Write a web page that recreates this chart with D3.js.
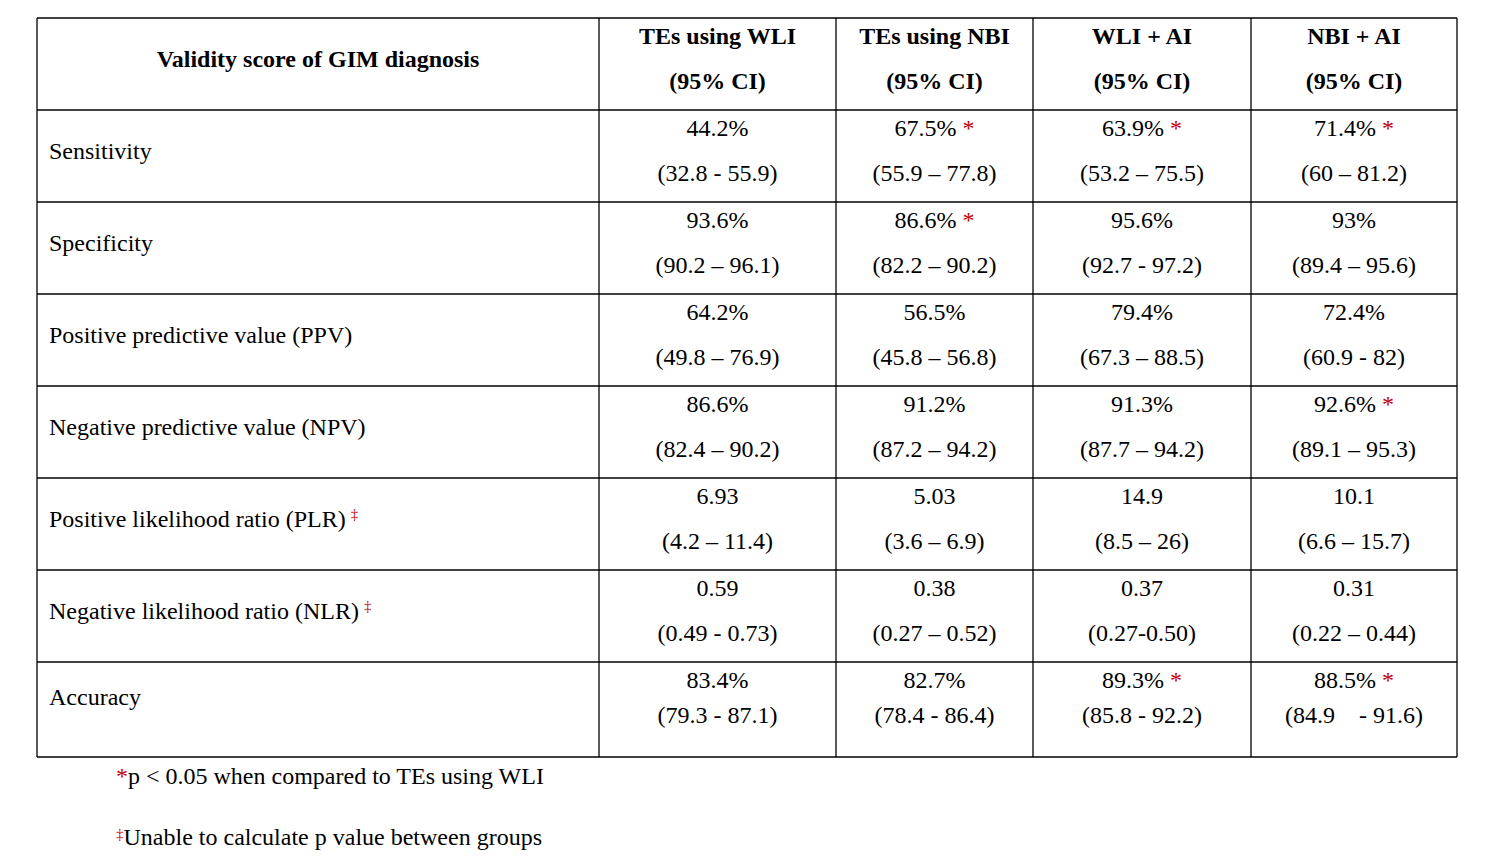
<!DOCTYPE html>
<html>
<head>
<meta charset="utf-8">
<script src="https://cdn.jsdelivr.net/npm/d3@7"></script>
<style>
  body { margin: 0; background: #fff; }
  svg text { font-family: "Liberation Serif", Tinos, "DejaVu Serif", serif; fill: #000; }
</style>
</head>
<body>
<svg id="table"></svg>
<script>
const width = 1490;
const height = 859;

const headerTitle = "Validity score of GIM diagnosis";
const columns = ["TEs using WLI", "TEs using NBI", "WLI + AI", "NBI + AI"];
const metrics = [
  "Sensitivity",
  "Specificity",
  "Positive predictive value (PPV)",
  "Negative predictive value (NPV)",
  "Positive likelihood ratio (PLR)",
  "Negative likelihood ratio (NLR)",
  "Accuracy"
];
const daggerRows = [false, false, false, false, true, true, false];
const values = [
  ["44.2%", "67.5%", "63.9%", "71.4%"],
  ["93.6%", "86.6%", "95.6%", "93%"],
  ["64.2%", "56.5%", "79.4%", "72.4%"],
  ["86.6%", "91.2%", "91.3%", "92.6%"],
  ["6.93", "5.03", "14.9", "10.1"],
  ["0.59", "0.38", "0.37", "0.31"],
  ["83.4%", "82.7%", "89.3%", "88.5%"]
];
const intervals = [
  ["(32.8 - 55.9)", "(55.9 \u2013 77.8)", "(53.2 \u2013 75.5)", "(60 \u2013 81.2)"],
  ["(90.2 \u2013 96.1)", "(82.2 \u2013 90.2)", "(92.7 - 97.2)", "(89.4 \u2013 95.6)"],
  ["(49.8 \u2013 76.9)", "(45.8 \u2013 56.8)", "(67.3 \u2013 88.5)", "(60.9 - 82)"],
  ["(82.4 \u2013 90.2)", "(87.2 \u2013 94.2)", "(87.7 \u2013 94.2)", "(89.1 \u2013 95.3)"],
  ["(4.2 \u2013 11.4)", "(3.6 \u2013 6.9)", "(8.5 \u2013 26)", "(6.6 \u2013 15.7)"],
  ["(0.49 - 0.73)", "(0.27 \u2013 0.52)", "(0.27-0.50)", "(0.22 \u2013 0.44)"],
  ["(79.3 - 87.1)", "(78.4 - 86.4)", "(85.8 - 92.2)", "(84.9\u00a0\u00a0\u00a0 - 91.6)"]
];
const significant = [
  [false, true, true, true],
  [false, true, false, false],
  [false, false, false, false],
  [false, false, false, true],
  [false, false, false, false],
  [false, false, false, false],
  [false, false, true, true]
];
const footnotes = ["p < 0.05 when compared to TEs using WLI", "Unable to calculate p value between groups"];
const footMarks = ["*", "\u2021"];

const red = "#c00000";
const fs = 24;
const serif = '"Liberation Serif", Tinos, "DejaVu Serif", serif';

// column edges and row edges
const colEdges = [37, 599, 836, 1033, 1251, 1457];
const rowEdges = [18, 110, 202, 294, 386, 478, 570, 662, 757];

const svg = d3.select("#table").attr("width", width).attr("height", height)
  .style("font-family", serif);

// borders
svg.append("g").selectAll("line").data(colEdges).enter().append("line")
  .attr("x1", d => d).attr("x2", d => d)
  .attr("y1", rowEdges[0]).attr("y2", rowEdges[rowEdges.length - 1])
  .attr("stroke", "#000").attr("stroke-width", 1.3);
svg.append("g").selectAll("line").data(rowEdges).enter().append("line")
  .attr("y1", d => d).attr("y2", d => d)
  .attr("x1", colEdges[0]).attr("x2", colEdges[colEdges.length - 1])
  .attr("stroke", "#000").attr("stroke-width", 1.3);

const colMid = i => (colEdges[i + 1] + colEdges[i + 2]) / 2;

// header
svg.append("text").attr("x", (colEdges[0] + colEdges[1]) / 2).attr("y", rowEdges[0] + 49)
  .attr("text-anchor", "middle").attr("font-size", fs).attr("font-weight", "bold").text(headerTitle);
columns.forEach((c, i) => {
  svg.append("text").attr("x", colMid(i)).attr("y", rowEdges[0] + 26)
    .attr("text-anchor", "middle").attr("font-size", fs).attr("font-weight", "bold").text(c);
  svg.append("text").attr("x", colMid(i)).attr("y", rowEdges[0] + 71)
    .attr("text-anchor", "middle").attr("font-size", fs).attr("font-weight", "bold").text("(95% CI)");
});

// body rows
metrics.forEach((m, r) => {
  const top = rowEdges[r + 1];
  const last = r === metrics.length - 1;
  const lab = svg.append("text").attr("x", 49).attr("y", top + (last ? 43 : 49)).attr("font-size", fs);
  lab.append("tspan").text(m);
  if (daggerRows[r]) {
    lab.append("tspan").attr("fill", red).attr("font-size", 15).attr("dx", 5).attr("dy", -8).text("\u2021");
  }
  columns.forEach((c, i) => {
    const t = svg.append("text").attr("x", colMid(i)).attr("y", top + 26)
      .attr("text-anchor", "middle").attr("font-size", fs);
    t.append("tspan").text(values[r][i]);
    if (significant[r][i]) {
      t.append("tspan").attr("fill", red).text(" *");
    }
    svg.append("text").attr("x", colMid(i)).attr("y", top + (last ? 61 : 71))
      .attr("text-anchor", "middle").attr("font-size", fs).text(intervals[r][i]);
  });
});

// footnotes
footnotes.forEach((f, i) => {
  const t = svg.append("text").attr("x", 116).attr("y", 784 + i * 61).attr("font-size", fs);
  t.append("tspan").attr("fill", red).attr("font-size", i === 0 ? fs : 15)
    .attr("dy", i === 0 ? 0 : -6).text(footMarks[i]);
  t.append("tspan").attr("dy", i === 0 ? 0 : 6).text(f);
});
</script>
</body>
</html>
